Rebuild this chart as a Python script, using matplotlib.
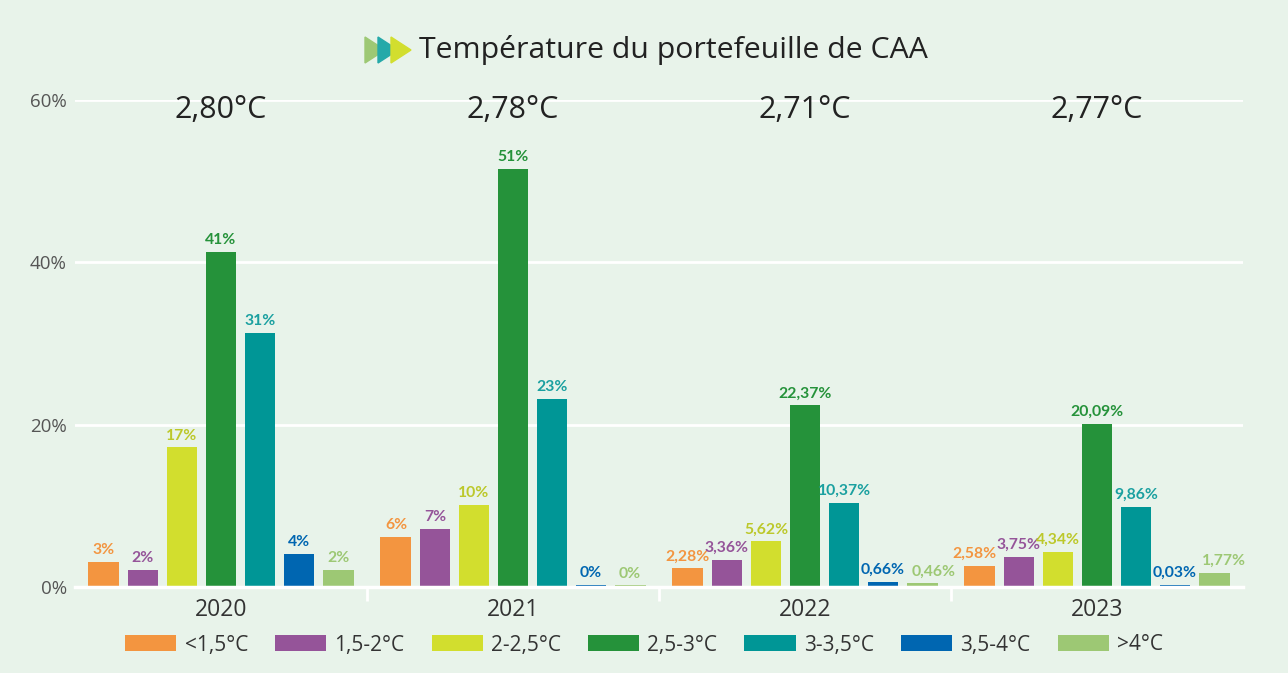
#!/usr/bin/env python3
"""Température du portefeuille de CAA - grouped bars by year and temperature band."""

import numpy as np
import matplotlib.pyplot as plt
from matplotlib.patches import Polygon

plt.rcParams["font.family"] = ["Open Sans", "DejaVu Sans"]

YEARS = ["2020", "2021", "2022", "2023"]
AVG_TEMP = ["2,80°C", "2,78°C", "2,71°C", "2,77°C"]
BANDS = ["<1,5°C", "1,5-2°C", "2-2,5°C", "2,5-3°C", "3-3,5°C", "3,5-4°C", ">4°C"]

# values per band, one entry per year (percent)
VALUES = {
    "<1,5°C": [3.1, 6.2, 2.28, 2.58],
    "1,5-2°C": [2.1, 7.2, 3.36, 3.75],
    "2-2,5°C": [17.2, 10.1, 5.62, 4.34],
    "2,5-3°C": [41.3, 51.5, 22.37, 20.09],
    "3-3,5°C": [31.3, 23.2, 10.37, 9.86],
    "3,5-4°C": [4.1, 0.3, 0.66, 0.3],
    ">4°C": [2.1, 0.2, 0.46, 1.77],
}
LABELS = {
    "<1,5°C": ["3%", "6%", "2,28%", "2,58%"],
    "1,5-2°C": ["2%", "7%", "3,36%", "3,75%"],
    "2-2,5°C": ["17%", "10%", "5,62%", "4,34%"],
    "2,5-3°C": ["41%", "51%", "22,37%", "20,09%"],
    "3-3,5°C": ["31%", "23%", "10,37%", "9,86%"],
    "3,5-4°C": ["4%", "0%", "0,66%", "0,03%"],
    ">4°C": ["2%", "0%", "0,46%", "1,77%"],
}

COLORS = ["#F39540", "#955499", "#D2DE2E", "#25923A", "#009696", "#0066B1", "#9DC874"]
LABEL_COLORS = ["#F39540", "#955499", "#BCC82A", "#25923A", "#1AA0A0", "#0066B1", "#9DC874"]
BG = "#E8F3EA"

# small horizontal nudges for crowded labels (band index, year index) -> x shift
NUDGE = {(6, 2): 0.04, (6, 3): 0.035, (0, 3): -0.02}


def main() -> None:
    fig = plt.figure(figsize=(12.88, 6.73), dpi=100, facecolor=BG)
    ax = fig.add_axes([75 / 1288, 86 / 673, 1168 / 1288, 487 / 673])
    ax.set_facecolor(BG)

    x = np.arange(len(YEARS))
    pitch = 0.1336
    width = 0.106
    for i, band in enumerate(BANDS):
        pos = x + (i - 3) * pitch
        ax.bar(pos, VALUES[band], width=width, color=COLORS[i], label=band, zorder=3)
        for j, (xp, v, lab) in enumerate(zip(pos, VALUES[band], LABELS[band])):
            ax.text(xp + NUDGE.get((i, j), 0), v + 0.6, lab, ha="center",
                    va="bottom", fontsize=11.3, fontweight="bold",
                    color=LABEL_COLORS[i], zorder=4, family=["Lato", "DejaVu Sans"])

    for xp, t in zip(x, AVG_TEMP):
        ax.text(xp, 58.8, t, ha="center", va="center", fontsize=22,
                color="#222222")

    ax.set_xlim(-0.5, 3.5)
    ax.set_ylim(0, 60)
    ax.set_yticks([0, 20, 40, 60])
    ax.set_yticklabels(["0%", "20%", "40%", "60%"])
    ax.yaxis.grid(True, color="white", linewidth=2, zorder=0)
    ax.tick_params(axis="y", length=0, labelsize=13.5, labelcolor="#555555", pad=6)

    # group boundary ticks on the baseline
    ax.set_xticks([0.5, 1.5, 2.5])
    ax.set_xticklabels([])
    ax.tick_params(axis="x", length=10, width=2, color="white", direction="out")
    for xp, y in zip(x, YEARS):
        ax.text(xp, -1.3, y, ha="center", va="top", fontsize=16.5,
                color="#333333")

    for side in ["top", "right", "left"]:
        ax.spines[side].set_visible(False)
    ax.spines["bottom"].set_color("white")
    ax.spines["bottom"].set_linewidth(2.5)
    ax.spines["bottom"].set_zorder(5)

    fig.legend(loc="center", bbox_to_anchor=(0.5, 1 - 645 / 673), ncol=7,
               frameon=False, handlelength=2.45, handleheight=0.8,
               columnspacing=1.3, handletextpad=0.4, labelcolor="#333333",
               prop={"size": 15})

    # title with arrow icon
    fig.text(419 / 1288, 1 - 50 / 673, "Température du portefeuille de CAA",
             ha="left", va="center", fontsize=21.8, color="#222222")
    icon_cols = ["#9DC874", "#25A9A9", "#D2DE2E"]
    for k, c in enumerate(icon_cols):
        x0 = 365 + k * 13
        pts = [(x0, 37), (x0, 63), (x0 + 20, 50)]
        pts = [(px / 1288, 1 - py / 673) for px, py in pts]
        fig.patches.append(Polygon(pts, closed=True, color=c, transform=fig.transFigure))

    fig.savefig("out.png", dpi=100, facecolor=BG)
    plt.close(fig)


if __name__ == "__main__":
    main()
